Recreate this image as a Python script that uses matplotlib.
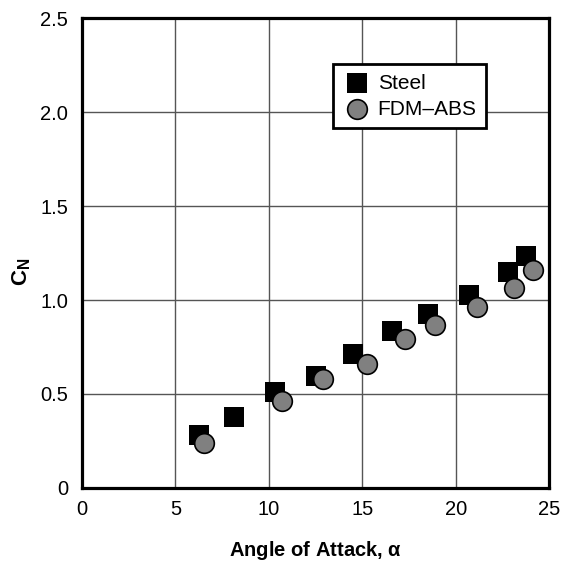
import matplotlib
matplotlib.use('Agg')
import matplotlib.pyplot as plt

plt.rcParams['font.family'] = ['Liberation Sans', 'DejaVu Sans']
plt.rcParams['mathtext.fontset'] = 'custom'
plt.rcParams['mathtext.rm'] = 'Liberation Sans'
plt.rcParams['mathtext.bf'] = 'Liberation Sans:bold'

# data
steel_alpha = [6.27, 8.16, 10.34, 12.55, 14.48, 16.62, 18.5, 20.74, 22.8, 23.77]
steel_cn = [0.282, 0.379, 0.512, 0.597, 0.713, 0.833, 0.927, 1.028, 1.149, 1.234]
abs_alpha = [6.53, 10.71, 12.89, 15.25, 17.3, 18.87, 21.14, 23.1, 24.14]
abs_cn = [0.241, 0.461, 0.578, 0.658, 0.794, 0.867, 0.965, 1.066, 1.160]
xticks = [0, 5, 10, 15, 20, 25]
yticks = [0, 0.5, 1.0, 1.5, 2.0, 2.5]
yticklabels = ['0', '0.5', '1.0', '1.5', '2.0', '2.5']

fig = plt.figure(figsize=(5.66, 5.68), dpi=100)
ax = fig.add_axes([0.145, 0.141, 0.825, 0.827])

ax.scatter(steel_alpha, steel_cn, marker='s', s=190, c='black', lw=0, label='Steel', zorder=3)
ax.scatter(abs_alpha, abs_cn, marker='o', s=200, c='#808080', edgecolors='black', lw=1.2,
           label='FDM\u2013ABS', zorder=4)

ax.set_xlim(0, 25)
ax.set_ylim(0, 2.5)
ax.set_xticks(xticks)
ax.set_yticks(yticks)
ax.set_yticklabels(yticklabels)
ax.tick_params(length=0, labelsize=14.5)
ax.tick_params(axis='y', pad=10)
ax.tick_params(axis='x', pad=9)
ax.grid(True, color='#555555', lw=1)
ax.set_axisbelow(True)
for sp in ax.spines.values():
    sp.set_linewidth(2.3)

ax.set_xlabel(r'Angle of Attack, $\mathbf{\alpha}$', fontsize=14.5, fontweight='bold', labelpad=14)
ax.set_ylabel(r'$\mathbf{C_N}$', fontsize=16)
ax.yaxis.set_label_coords(-0.105, 0.46)

leg = ax.legend(loc='upper left', bbox_to_anchor=(0.537, 0.902), fontsize=15, frameon=True,
                fancybox=False, edgecolor='black', framealpha=1, handletextpad=0.3,
                borderpad=0.45, labelspacing=0.35, scatterpoints=1, borderaxespad=0,
                handlelength=1.4)
leg.get_frame().set_linewidth(2)

fig.savefig('out.png', dpi=100)
